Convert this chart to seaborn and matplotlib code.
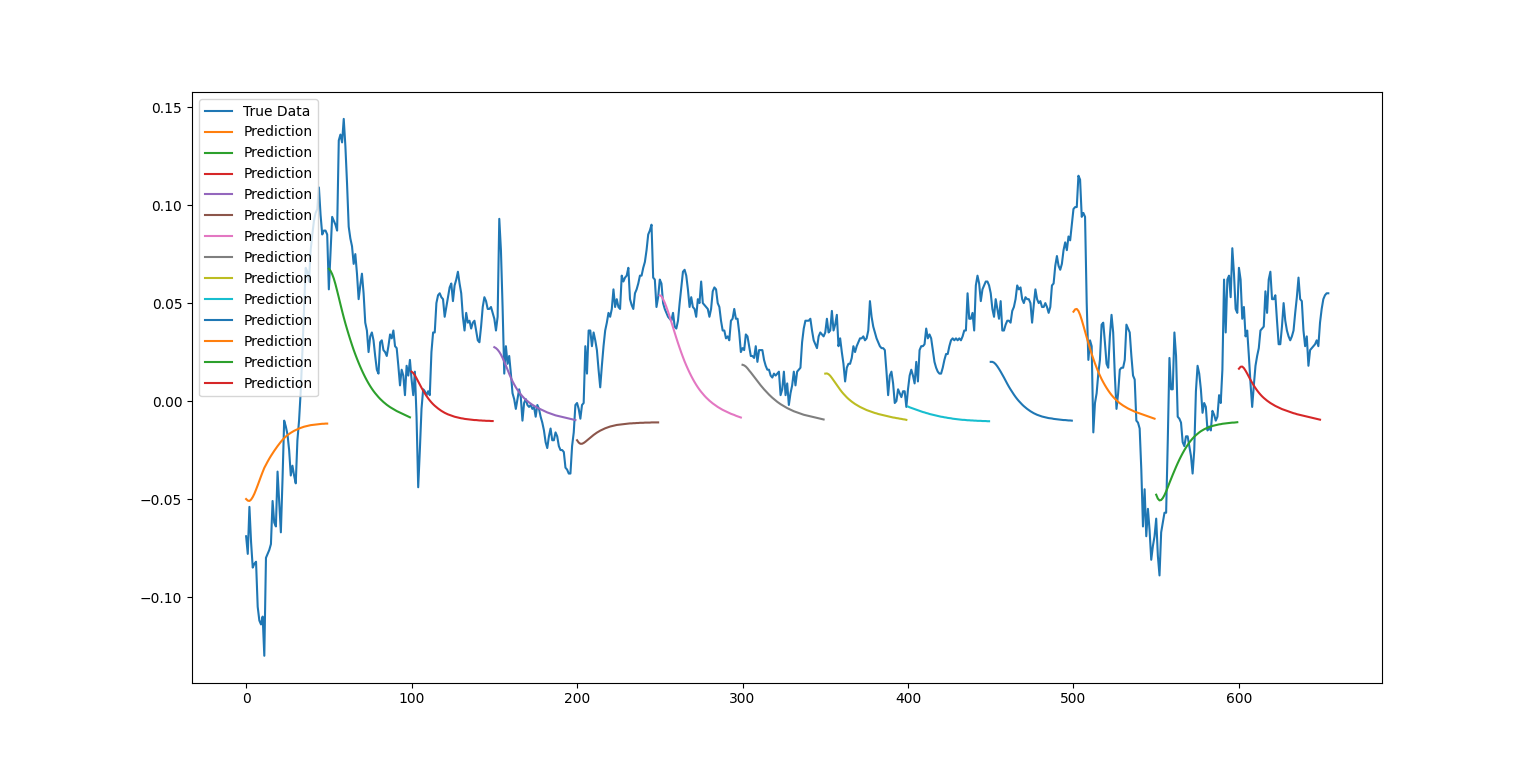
import numpy as np
import matplotlib
matplotlib.use("Agg")
import matplotlib.pyplot as plt
import seaborn as sns

true_data = [
    -0.069, -0.078, -0.054, -0.072, -0.085, -0.083, -0.082, -0.105, -0.112, -0.114,
    -0.110, -0.130, -0.080, -0.078, -0.076, -0.073, -0.051, -0.062, -0.064, -0.036,
    -0.052, -0.067, -0.040, -0.010, -0.013, -0.017, -0.025, -0.038, -0.033, -0.038,
    -0.042, -0.020, -0.010, 0.005, 0.025, 0.047, 0.068, 0.066, 0.061, 0.077,
    0.085, 0.092, 0.096, 0.098, 0.109, 0.095, 0.085, 0.087, 0.087, 0.085,
    0.057, 0.075, 0.094, 0.092, 0.090, 0.087, 0.133, 0.136, 0.132, 0.144,
    0.130, 0.111, 0.089, 0.083, 0.079, 0.070, 0.075, 0.065, 0.052, 0.059,
    0.065, 0.055, 0.040, 0.036, 0.025, 0.033, 0.035, 0.031, 0.023, 0.016,
    0.014, 0.030, 0.031, 0.026, 0.025, 0.023, 0.028, 0.034, 0.032, 0.036,
    0.028, 0.027, 0.018, 0.008, 0.016, 0.013, 0.003, 0.018, 0.013, 0.021,
    0.011, 0.003, 0.015, -0.008, -0.044, -0.025, -0.004, 0.006, 0.005, 0.003,
    0.005, 0.003, 0.025, 0.035, 0.035, 0.050, 0.054, 0.055, 0.053, 0.052,
    0.043, 0.048, 0.053, 0.058, 0.060, 0.051, 0.059, 0.062, 0.066, 0.060,
    0.055, 0.043, 0.036, 0.045, 0.040, 0.041, 0.037, 0.040, 0.041, 0.036,
    0.031, 0.030, 0.038, 0.048, 0.053, 0.051, 0.047, 0.047, 0.048, 0.045,
    0.042, 0.036, 0.043, 0.093, 0.077, 0.048, 0.014, 0.028, 0.019, 0.023,
    0.014, 0.004, 0.001, -0.004, 0.001, 0.006, 0.002, -0.010, -0.001, 0.001,
    -0.002, -0.003, -0.002, -0.004, -0.003, -0.008, -0.002, -0.004, -0.008, -0.011,
    -0.015, -0.021, -0.024, -0.018, -0.014, -0.020, -0.020, -0.016, -0.018, -0.023,
    -0.025, -0.025, -0.026, -0.034, -0.035, -0.037, -0.037, -0.023, -0.016, -0.002,
    -0.001, -0.004, -0.009, -0.002, -0.001, 0.028, 0.014, 0.036, 0.036, 0.028,
    0.035, 0.031, 0.026, 0.016, 0.007, 0.018, 0.028, 0.036, 0.040, 0.045,
    0.043, 0.047, 0.057, 0.048, 0.052, 0.048, 0.047, 0.064, 0.061, 0.063,
    0.064, 0.068, 0.052, 0.049, 0.047, 0.055, 0.057, 0.060, 0.064, 0.064,
    0.068, 0.071, 0.077, 0.085, 0.087, 0.090, 0.063, 0.062, 0.048, 0.053,
    0.062, 0.060, 0.050, 0.047, 0.045, 0.043, 0.042, 0.041, 0.045, 0.038,
    0.037, 0.041, 0.050, 0.058, 0.066, 0.067, 0.064, 0.057, 0.048, 0.053,
    0.048, 0.047, 0.043, 0.052, 0.050, 0.061, 0.050, 0.049, 0.048, 0.047,
    0.043, 0.047, 0.056, 0.058, 0.057, 0.050, 0.048, 0.041, 0.036, 0.036,
    0.032, 0.033, 0.031, 0.041, 0.042, 0.047, 0.042, 0.042, 0.035, 0.025,
    0.027, 0.026, 0.034, 0.033, 0.028, 0.023, 0.023, 0.022, 0.028, 0.020,
    0.026, 0.026, 0.026, 0.021, 0.018, 0.016, 0.016, 0.013, 0.012, 0.014,
    0.013, 0.014, 0.015, 0.003, 0.006, 0.015, 0.003, 0.009, -0.002, 0.004,
    0.008, 0.015, 0.008, 0.015, 0.016, 0.017, 0.030, 0.037, 0.041, 0.041,
    0.041, 0.042, 0.036, 0.031, 0.029, 0.027, 0.033, 0.035, 0.034, 0.033,
    0.035, 0.042, 0.035, 0.036, 0.046, 0.036, 0.039, 0.044, 0.028, 0.032,
    0.025, 0.019, 0.010, 0.017, 0.019, 0.019, 0.022, 0.028, 0.025, 0.028,
    0.030, 0.032, 0.032, 0.033, 0.031, 0.032, 0.036, 0.051, 0.043, 0.038,
    0.035, 0.032, 0.030, 0.028, 0.027, 0.027, 0.026, 0.015, 0.003, 0.013,
    0.015, 0.009, -0.001, 0.000, 0.006, 0.004, 0.002, 0.005, 0.005, -0.003,
    0.006, 0.013, 0.016, 0.013, 0.009, 0.020, 0.010, 0.026, 0.028, 0.028,
    0.029, 0.037, 0.032, 0.034, 0.032, 0.026, 0.020, 0.017, 0.015, 0.014,
    0.014, 0.017, 0.021, 0.024, 0.024, 0.028, 0.031, 0.032, 0.031, 0.032,
    0.031, 0.032, 0.031, 0.033, 0.036, 0.036, 0.055, 0.042, 0.042, 0.045,
    0.036, 0.059, 0.064, 0.060, 0.051, 0.057, 0.059, 0.061, 0.061, 0.059,
    0.055, 0.047, 0.043, 0.052, 0.047, 0.042, 0.051, 0.036, 0.036, 0.039,
    0.041, 0.041, 0.040, 0.046, 0.048, 0.052, 0.059, 0.057, 0.058, 0.052,
    0.050, 0.053, 0.052, 0.052, 0.050, 0.040, 0.049, 0.057, 0.052, 0.050,
    0.051, 0.048, 0.048, 0.050, 0.048, 0.045, 0.048, 0.059, 0.060, 0.069,
    0.074, 0.069, 0.067, 0.070, 0.077, 0.081, 0.077, 0.084, 0.082, 0.090,
    0.098, 0.099, 0.099, 0.115, 0.113, 0.094, 0.096, 0.094, 0.050, 0.021,
    0.031, 0.028, -0.016, -0.001, 0.004, 0.014, 0.021, 0.039, 0.040, 0.030,
    0.019, 0.017, 0.033, 0.044, 0.035, 0.013, -0.004, 0.004, 0.016, 0.017,
    0.017, 0.021, 0.039, 0.037, 0.035, 0.023, 0.013, 0.011, -0.010, -0.011,
    -0.014, -0.035, -0.064, -0.045, -0.069, -0.055, -0.066, -0.081, -0.074, -0.069,
    -0.060, -0.079, -0.089, -0.067, -0.062, -0.057, -0.057, -0.020, 0.022, 0.006,
    0.006, 0.035, 0.023, -0.008, -0.009, -0.011, -0.021, -0.023, -0.018, -0.018,
    -0.023, -0.028, -0.037, -0.025, 0.005, 0.018, 0.014, 0.006, -0.006, -0.001,
    -0.003, -0.015, -0.013, -0.015, -0.005, -0.007, -0.010, -0.008, 0.003, -0.001,
    0.016, 0.062, 0.035, 0.062, 0.064, 0.053, 0.078, 0.065, 0.047, 0.045,
    0.068, 0.062, 0.042, 0.048, 0.033, 0.036, 0.023, 0.009, -0.003, 0.008,
    0.018, 0.023, 0.027, 0.036, 0.037, 0.038, 0.056, 0.045, 0.062, 0.066,
    0.052, 0.052, 0.054, 0.041, 0.029, 0.029, 0.038, 0.050, 0.041, 0.036,
    0.033, 0.031, 0.033, 0.036, 0.045, 0.053, 0.063, 0.052, 0.051, 0.036,
    0.028, 0.033, 0.018, 0.026, 0.027, 0.028, 0.029, 0.031, 0.028, 0.040,
    0.047, 0.052, 0.054, 0.055, 0.055,
]

prediction_starts = [0, 50, 100, 150, 200, 250, 300, 350, 400, 450, 500, 550, 600]

pred_00 = [
    -0.0500, -0.0508, -0.0510, -0.0503, -0.0490, -0.0473, -0.0452, -0.0430, -0.0407, -0.0384,
    -0.0362, -0.0341, -0.0325, -0.0309, -0.0294, -0.0280, -0.0267, -0.0254, -0.0242, -0.0230,
    -0.0219, -0.0208, -0.0198, -0.0189, -0.0181, -0.0174, -0.0168, -0.0162, -0.0157, -0.0152,
    -0.0148, -0.0144, -0.0140, -0.0137, -0.0134, -0.0131, -0.0129, -0.0127, -0.0125, -0.0123,
    -0.0122, -0.0121, -0.0120, -0.0119, -0.0118, -0.0117, -0.0116, -0.0116, -0.0115, -0.0115,
]
pred_01 = [
    0.0675, 0.0665, 0.0648, 0.0625, 0.0596, 0.0563, 0.0529, 0.0494, 0.0460, 0.0427,
    0.0396, 0.0367, 0.0339, 0.0312, 0.0286, 0.0261, 0.0238, 0.0216, 0.0195, 0.0175,
    0.0156, 0.0138, 0.0121, 0.0105, 0.0090, 0.0076, 0.0063, 0.0051, 0.0040, 0.0030,
    0.0020, 0.0011, 0.0003, -0.0005, -0.0012, -0.0019, -0.0025, -0.0031, -0.0036, -0.0041,
    -0.0046, -0.0051, -0.0055, -0.0059, -0.0063, -0.0067, -0.0071, -0.0075, -0.0079, -0.0083,
]
pred_02 = [
    0.0150, 0.0143, 0.0131, 0.0116, 0.0100, 0.0084, 0.0068, 0.0053, 0.0039, 0.0026,
    0.0014, 0.0003, -0.0007, -0.0016, -0.0024, -0.0031, -0.0038, -0.0044, -0.0050, -0.0055,
    -0.0060, -0.0064, -0.0068, -0.0071, -0.0074, -0.0077, -0.0080, -0.0082, -0.0084, -0.0086,
    -0.0088, -0.0089, -0.0091, -0.0092, -0.0093, -0.0094, -0.0095, -0.0096, -0.0097, -0.0097,
    -0.0098, -0.0099, -0.0099, -0.0100, -0.0100, -0.0101, -0.0101, -0.0101, -0.0102, -0.0102,
]
pred_03 = [
    0.0275, 0.0270, 0.0262, 0.0251, 0.0237, 0.0220, 0.0201, 0.0181, 0.0160, 0.0139,
    0.0119, 0.0101, 0.0085, 0.0070, 0.0057, 0.0045, 0.0034, 0.0024, 0.0015, 0.0007,
    0.0000, -0.0007, -0.0013, -0.0019, -0.0024, -0.0029, -0.0034, -0.0038, -0.0042, -0.0046,
    -0.0050, -0.0054, -0.0058, -0.0061, -0.0064, -0.0067, -0.0070, -0.0073, -0.0075, -0.0077,
    -0.0079, -0.0081, -0.0083, -0.0085, -0.0087, -0.0089, -0.0091, -0.0093, -0.0095, -0.0097,
]
pred_04 = [
    -0.0200, -0.0212, -0.0218, -0.0218, -0.0214, -0.0208, -0.0201, -0.0194, -0.0187, -0.0180,
    -0.0173, -0.0167, -0.0161, -0.0156, -0.0151, -0.0147, -0.0143, -0.0139, -0.0136, -0.0133,
    -0.0130, -0.0128, -0.0126, -0.0124, -0.0122, -0.0121, -0.0120, -0.0119, -0.0118, -0.0117,
    -0.0116, -0.0115, -0.0114, -0.0114, -0.0113, -0.0113, -0.0112, -0.0112, -0.0111, -0.0111,
    -0.0111, -0.0110, -0.0110, -0.0110, -0.0110, -0.0109, -0.0109, -0.0109, -0.0109, -0.0109,
]
pred_05 = [
    0.0540, 0.0535, 0.0520, 0.0502, 0.0480, 0.0456, 0.0430, 0.0403, 0.0376, 0.0349,
    0.0322, 0.0296, 0.0271, 0.0247, 0.0224, 0.0202, 0.0182, 0.0163, 0.0145, 0.0128,
    0.0112, 0.0097, 0.0083, 0.0070, 0.0058, 0.0047, 0.0037, 0.0027, 0.0018, 0.0010,
    0.0002, -0.0005, -0.0012, -0.0018, -0.0024, -0.0030, -0.0035, -0.0040, -0.0045, -0.0049,
    -0.0053, -0.0057, -0.0061, -0.0065, -0.0068, -0.0071, -0.0075, -0.0078, -0.0081, -0.0084,
]
pred_06 = [
    0.0185, 0.0182, 0.0176, 0.0167, 0.0156, 0.0146, 0.0135, 0.0124, 0.0113, 0.0102,
    0.0091, 0.0080, 0.0070, 0.0060, 0.0051, 0.0042, 0.0033, 0.0025, 0.0017, 0.0010,
    0.0003, -0.0004, -0.0010, -0.0016, -0.0021, -0.0026, -0.0031, -0.0036, -0.0040, -0.0044,
    -0.0048, -0.0052, -0.0055, -0.0058, -0.0061, -0.0064, -0.0067, -0.0070, -0.0072, -0.0074,
    -0.0076, -0.0078, -0.0080, -0.0082, -0.0084, -0.0086, -0.0088, -0.0090, -0.0092, -0.0094,
]
pred_07 = [
    0.0140, 0.0141, 0.0137, 0.0129, 0.0118, 0.0106, 0.0094, 0.0082, 0.0070, 0.0058,
    0.0047, 0.0037, 0.0028, 0.0019, 0.0011, 0.0004, -0.0003, -0.0009, -0.0015, -0.0020,
    -0.0025, -0.0030, -0.0034, -0.0038, -0.0042, -0.0046, -0.0049, -0.0052, -0.0055, -0.0058,
    -0.0061, -0.0063, -0.0066, -0.0068, -0.0070, -0.0072, -0.0074, -0.0076, -0.0078, -0.0080,
    -0.0082, -0.0084, -0.0085, -0.0087, -0.0088, -0.0090, -0.0091, -0.0093, -0.0094, -0.0096,
]
pred_08 = [
    -0.0028, -0.0032, -0.0035, -0.0038, -0.0041, -0.0044, -0.0047, -0.0050, -0.0053, -0.0056,
    -0.0058, -0.0061, -0.0063, -0.0066, -0.0068, -0.0070, -0.0072, -0.0074, -0.0076, -0.0078,
    -0.0080, -0.0081, -0.0083, -0.0084, -0.0086, -0.0087, -0.0088, -0.0090, -0.0091, -0.0092,
    -0.0093, -0.0094, -0.0095, -0.0096, -0.0096, -0.0097, -0.0098, -0.0098, -0.0099, -0.0099,
    -0.0100, -0.0100, -0.0101, -0.0101, -0.0101, -0.0102, -0.0102, -0.0102, -0.0103, -0.0103,
]
pred_09 = [
    0.0200, 0.0200, 0.0196, 0.0188, 0.0177, 0.0164, 0.0150, 0.0135, 0.0120, 0.0104,
    0.0088, 0.0073, 0.0059, 0.0046, 0.0033, 0.0021, 0.0010, 0.0000, -0.0009, -0.0018,
    -0.0026, -0.0033, -0.0040, -0.0046, -0.0052, -0.0057, -0.0062, -0.0066, -0.0070, -0.0073,
    -0.0076, -0.0079, -0.0081, -0.0083, -0.0085, -0.0087, -0.0088, -0.0089, -0.0091, -0.0092,
    -0.0093, -0.0094, -0.0095, -0.0096, -0.0097, -0.0097, -0.0098, -0.0099, -0.0099, -0.0100,
]
pred_10 = [
    0.0456, 0.0468, 0.0470, 0.0460, 0.0440, 0.0414, 0.0385, 0.0355, 0.0325, 0.0296,
    0.0268, 0.0241, 0.0216, 0.0192, 0.0170, 0.0149, 0.0130, 0.0112, 0.0096, 0.0081,
    0.0067, 0.0054, 0.0042, 0.0031, 0.0021, 0.0012, 0.0004, -0.0004, -0.0011, -0.0017,
    -0.0023, -0.0028, -0.0033, -0.0038, -0.0042, -0.0046, -0.0050, -0.0054, -0.0057, -0.0060,
    -0.0063, -0.0066, -0.0069, -0.0072, -0.0075, -0.0078, -0.0081, -0.0084, -0.0087, -0.0090,
]
pred_11 = [
    -0.0478, -0.0498, -0.0507, -0.0505, -0.0495, -0.0480, -0.0461, -0.0440, -0.0418, -0.0397,
    -0.0376, -0.0356, -0.0336, -0.0317, -0.0299, -0.0282, -0.0266, -0.0251, -0.0237, -0.0224,
    -0.0212, -0.0201, -0.0191, -0.0182, -0.0174, -0.0167, -0.0160, -0.0154, -0.0149, -0.0144,
    -0.0140, -0.0136, -0.0133, -0.0130, -0.0127, -0.0125, -0.0123, -0.0121, -0.0119, -0.0118,
    -0.0116, -0.0115, -0.0114, -0.0113, -0.0112, -0.0111, -0.0110, -0.0110, -0.0109, -0.0108,
]
pred_12 = [
    0.0165, 0.0175, 0.0176, 0.0168, 0.0155, 0.0140, 0.0124, 0.0108, 0.0093, 0.0079,
    0.0066, 0.0054, 0.0043, 0.0033, 0.0024, 0.0016, 0.0009, 0.0002, -0.0004, -0.0010,
    -0.0015, -0.0020, -0.0025, -0.0029, -0.0033, -0.0037, -0.0041, -0.0044, -0.0047, -0.0050,
    -0.0053, -0.0056, -0.0059, -0.0062, -0.0064, -0.0067, -0.0069, -0.0071, -0.0073, -0.0075,
    -0.0077, -0.0079, -0.0081, -0.0083, -0.0085, -0.0087, -0.0089, -0.0091, -0.0093, -0.0095,
]

predictions = [pred_00, pred_01, pred_02, pred_03, pred_04, pred_05, pred_06,
               pred_07, pred_08, pred_09, pred_10, pred_11, pred_12]

fig, ax = plt.subplots(figsize=(15.36, 7.67), dpi=100)

sns.lineplot(x=np.arange(len(true_data)), y=true_data, ax=ax, color="C0",
             label="True Data", estimator=None, sort=False, linewidth=1.5)
for k, (start, pred) in enumerate(zip(prediction_starts, predictions)):
    sns.lineplot(x=np.arange(start, start + len(pred)), y=pred, ax=ax,
                 color=f"C{(k + 1) % 10}", label="Prediction",
                 estimator=None, sort=False, linewidth=1.5)

ax.set_xlabel("")
ax.set_ylabel("")
ax.legend(loc="upper left")
fig.savefig("out.png", dpi=100)
